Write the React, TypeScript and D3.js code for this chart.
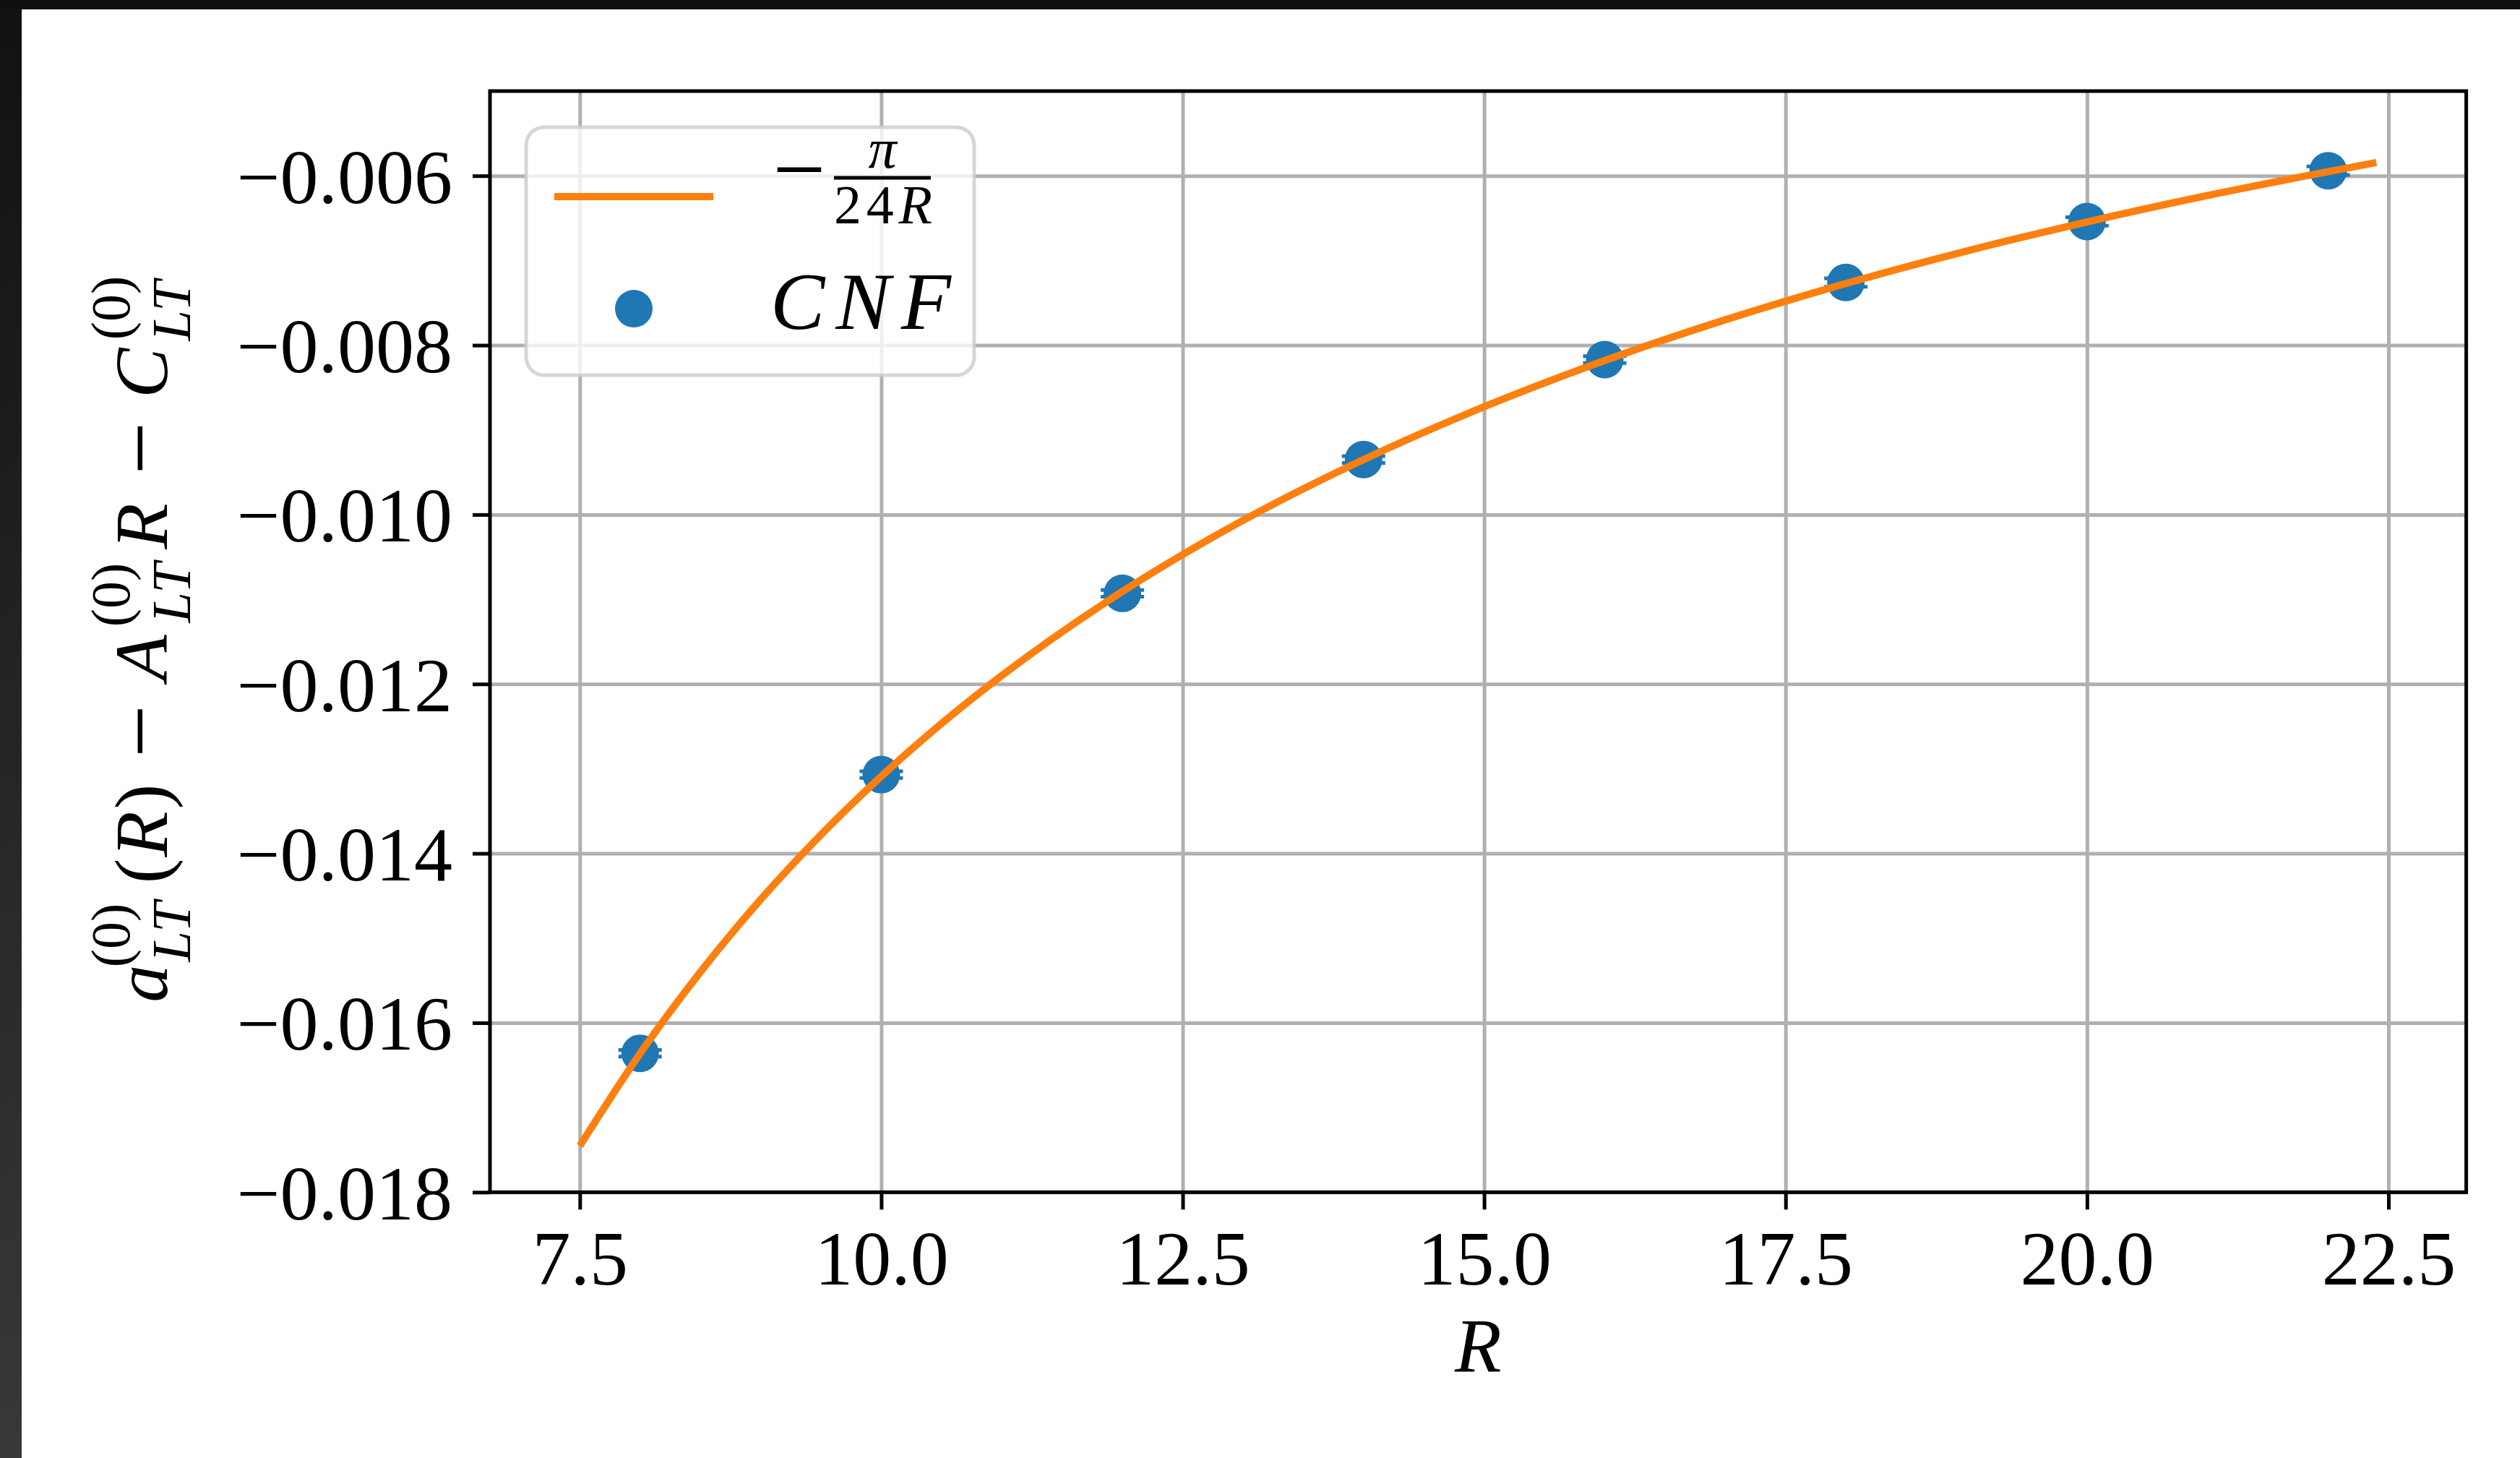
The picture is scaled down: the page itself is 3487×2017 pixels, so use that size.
import { useRef, useEffect } from "react";
import * as d3 from "d3";

// CNF points
const R_VALUES = [8, 10, 12, 14, 16, 18, 20, 22];
const CNF_VALUES = [-0.01636, -0.01307, -0.01093, -0.00935, -0.00817, -0.00726, -0.00654, -0.00594];
const CNF_ERRORS = [0.00004, 0.00004, 0.00004, 0.00004, 0.00004, 0.00005, 0.00005, 0.00005];

// -pi/(24R) curve, sampled from the figure
const CURVE_R = [7.5, 8, 8.5, 9, 9.5, 10, 10.5, 11, 12, 13, 14, 15, 16, 17, 18, 19, 20, 21, 22.4];
const CURVE_VALUES = [
  -0.017453, -0.016362, -0.0154, -0.014544, -0.013779, -0.01309, -0.012467, -0.0119,
  -0.010908, -0.010069, -0.00935, -0.008727, -0.008181, -0.0077, -0.007272, -0.006889,
  -0.006545, -0.006233, -0.005844,
];

const X_TICKS = [7.5, 10, 12.5, 15, 17.5, 20, 22.5];
const Y_TICKS = [-0.018, -0.016, -0.014, -0.012, -0.01, -0.008, -0.006];
const X_DOMAIN = [6.755, 23.145];
const Y_DOMAIN = [-0.018, -0.005];

const W = 3487;
const H = 2017;
const SERIF = "'Liberation Serif', 'DejaVu Serif', serif";
const BLUE = "#1f77b4";
const ORANGE = "#ff7f0e";

export default function App() {
  const svgRef = useRef<SVGSVGElement | null>(null);

  useEffect(() => {
    const svg = d3.select(svgRef.current);
    svg.selectAll("*").remove();

    const m = { left: 678, top: 126, right: 3412.6, bottom: 1649.3 };
    const x = d3.scaleLinear().domain(X_DOMAIN).range([m.left, m.right]);
    const y = d3.scaleLinear().domain(Y_DOMAIN).range([m.bottom, m.top]);

    // page + dark window edges
    const grad = svg.append("defs").append("linearGradient")
      .attr("id", "edge").attr("x1", 0).attr("y1", 0).attr("x2", 0).attr("y2", 1);
    grad.append("stop").attr("offset", "0%").attr("stop-color", "#111");
    grad.append("stop").attr("offset", "100%").attr("stop-color", "#383838");
    svg.append("rect").attr("width", W).attr("height", H).attr("fill", "#fff");
    svg.append("rect").attr("width", 30).attr("height", H).attr("fill", "url(#edge)");
    svg.append("rect").attr("width", W).attr("height", 13).attr("fill", "#101010");

    // Grid
    svg.append("g")
      .attr("transform", `translate(0,${m.bottom})`)
      .call(d3.axisBottom(x).tickValues(X_TICKS).tickSize(-(m.bottom - m.top)).tickFormat(() => ""))
      .call((g) => {
        g.select(".domain").remove();
        g.selectAll("line").attr("stroke", "#b0b0b0").attr("stroke-width", 5);
      });
    svg.append("g")
      .attr("transform", `translate(${m.left},0)`)
      .call(d3.axisLeft(y).tickValues(Y_TICKS).tickSize(-(m.right - m.left)).tickFormat(() => ""))
      .call((g) => {
        g.select(".domain").remove();
        g.selectAll("line").attr("stroke", "#b0b0b0").attr("stroke-width", 5);
      });

    // CNF points with error bars
    const pts = R_VALUES.map((r, i) => ({ r, v: CNF_VALUES[i], e: CNF_ERRORS[i] }));
    const eb = svg.append("g").attr("stroke", BLUE).attr("stroke-width", 5);
    pts.forEach((p) => {
      eb.append("line")
        .attr("x1", x(p.r)).attr("x2", x(p.r))
        .attr("y1", y(p.v - p.e)).attr("y2", y(p.v + p.e));
      [p.v - p.e, p.v + p.e].forEach((v) => {
        eb.append("line")
          .attr("x1", x(p.r) - 30).attr("x2", x(p.r) + 30)
          .attr("y1", y(v)).attr("y2", y(v));
      });
    });
    svg.append("g").selectAll("circle").data(pts).join("circle")
      .attr("cx", (d) => x(d.r)).attr("cy", (d) => y(d.v))
      .attr("r", 26).attr("fill", BLUE);

    // -pi/(24R)
    const curve = CURVE_R.map((r, i) => ({ r, v: CURVE_VALUES[i] }));
    const lineGen = d3.line<{ r: number; v: number }>()
      .x((d) => x(d.r)).y((d) => y(d.v)).curve(d3.curveMonotoneX);
    svg.append("path").datum(curve)
      .attr("fill", "none").attr("stroke", ORANGE).attr("stroke-width", 10)
      .attr("d", lineGen);

    // Spines
    svg.append("rect")
      .attr("x", m.left).attr("y", m.top)
      .attr("width", m.right - m.left).attr("height", m.bottom - m.top)
      .attr("fill", "none").attr("stroke", "#000").attr("stroke-width", 5);

    // Axes
    svg.append("g")
      .attr("transform", `translate(0,${m.bottom})`)
      .call(d3.axisBottom(x).tickValues(X_TICKS).tickSize(24).tickFormat(d3.format(".1f")))
      .call((g) => {
        g.select(".domain").remove();
        g.selectAll("line").attr("stroke", "#000").attr("stroke-width", 5);
        g.selectAll("text")
          .attr("y", 128).attr("dy", null)
          .attr("fill", "#000").attr("font-size", 106).attr("font-family", SERIF);
      });
    svg.append("g")
      .attr("transform", `translate(${m.left},0)`)
      .call(d3.axisLeft(y).tickValues(Y_TICKS).tickSize(24).tickFormat(d3.format(".3f")))
      .call((g) => {
        g.select(".domain").remove();
        g.selectAll("line").attr("stroke", "#000").attr("stroke-width", 5);
        g.selectAll("text")
          .attr("x", -52).attr("y", 37).attr("dy", null)
          .attr("fill", "#000").attr("font-size", 106).attr("font-family", SERIF);
      });

    // x label
    svg.append("text")
      .attr("x", (m.left + m.right) / 2).attr("y", 1897)
      .attr("text-anchor", "middle").attr("font-family", SERIF)
      .attr("font-size", 106).attr("font-style", "italic")
      .text("R");

    // y label: a_LT^(0)(R) − A_LT^(0) R − C_LT^(0)
    const yl = svg.append("g")
      .attr("transform", "translate(231,1390) rotate(-90)")
      .attr("font-family", SERIF).attr("text-anchor", "middle");
    const pieces = [
      { t: "a", at: 29.5, shift: 0, size: 104, it: true },
      { t: "(0)", at: 96, shift: -52, size: 76, it: false },
      { t: "LT", at: 101, shift: 32, size: 76, it: true },
      { t: "(", at: 185, shift: 0, size: 104, it: false },
      { t: "R", at: 236, shift: 0, size: 104, it: true },
      { t: ")", at: 288, shift: 0, size: 104, it: false },
      { t: "\u2212", at: 378.5, shift: 6, size: 130, it: false },
      { t: "A", at: 480, shift: 0, size: 104, it: true },
      { t: "(0)", at: 567, shift: -52, size: 76, it: false },
      { t: "LT", at: 570, shift: 32, size: 76, it: true },
      { t: "R", at: 662, shift: 0, size: 104, it: true },
      { t: "\u2212", at: 770, shift: 6, size: 130, it: false },
      { t: "C", at: 874, shift: 0, size: 104, it: true },
      { t: "(0)", at: 964, shift: -52, size: 76, it: false },
      { t: "LT", at: 960, shift: 32, size: 76, it: true },
    ];
    pieces.forEach((p) => {
      yl.append("text")
        .attr("x", p.at).attr("y", p.shift)
        .attr("font-size", p.size)
        .attr("font-style", p.it ? "italic" : "normal")
        .text(p.t);
    });

    // Legend
    const lg = svg.append("g").attr("font-family", SERIF);
    lg.append("rect")
      .attr("x", 728).attr("y", 176).attr("width", 620).attr("height", 343).attr("rx", 25)
      .attr("fill", "#fff").attr("fill-opacity", 0.8)
      .attr("stroke", "#ccc").attr("stroke-opacity", 0.8).attr("stroke-width", 5);
    lg.append("line")
      .attr("x1", 767).attr("x2", 987).attr("y1", 272).attr("y2", 272)
      .attr("stroke", ORANGE).attr("stroke-width", 10);
    lg.append("text")
      .attr("x", 1106).attr("y", 278).attr("text-anchor", "middle")
      .attr("font-size", 130).text("\u2212");
    lg.append("line")
      .attr("x1", 1154).attr("x2", 1288).attr("y1", 246).attr("y2", 246)
      .attr("stroke", "#000").attr("stroke-width", 5);
    lg.append("text")
      .attr("x", 1221).attr("y", 232).attr("text-anchor", "middle")
      .attr("font-size", 78).attr("font-style", "italic").text("\u03c0");
    const den = lg.append("text")
      .attr("x", 1222).attr("y", 309).attr("text-anchor", "middle").attr("font-size", 76)
      .attr("textLength", 136).attr("lengthAdjust", "spacing");
    den.append("tspan").text("24");
    den.append("tspan").attr("font-style", "italic").text("R");
    lg.append("circle").attr("cx", 877).attr("cy", 427).attr("r", 26).attr("fill", BLUE);
    lg.append("text")
      .attr("x", 1066).attr("y", 455)
      .attr("font-size", 113).attr("font-style", "italic")
      .attr("textLength", 250).attr("lengthAdjust", "spacing")
      .text("CNF");
  }, []);

  return (
    <svg
      ref={svgRef}
      width={W}
      height={H}
      style={{ position: "absolute", left: 0, top: 0, display: "block" }}
    />
  );
}
